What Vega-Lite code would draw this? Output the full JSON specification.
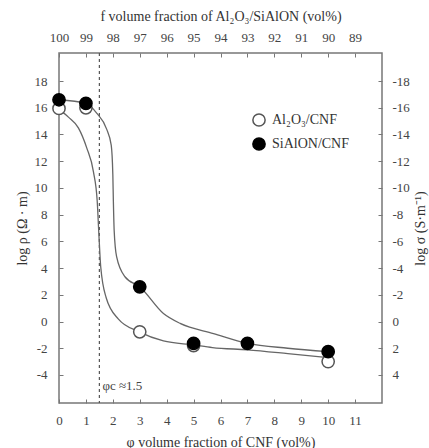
{
  "$schema": "https://vega.github.io/schema/vega-lite/v6.json",
  "width": 323,
  "height": 350,
  "autosize": {"type": "none"},
  "padding": {"left": 59, "top": 53, "right": 47, "bottom": 45},
  "background": "white",
  "config": {
    "font": "Liberation Serif, Times New Roman, serif",
    "view": {"stroke": "#777", "strokeWidth": 1.5},
    "axis": {
      "domain": false,
      "grid": false,
      "tickColor": "#777",
      "tickSize": 4,
      "offset": -4,
      "tickWidth": 1,
      "labelFlush": false,
      "labelFont": "Liberation Serif, Times New Roman, serif",
      "labelFontSize": 13,
      "labelColor": "#444",
      "titleFont": "Liberation Serif, Times New Roman, serif",
      "titleFontSize": 14,
      "titleFontWeight": "normal",
      "titleColor": "#333"
    },
    "legend": {
      "labelFont": "Liberation Serif, Times New Roman, serif",
      "labelFontSize": 14,
      "labelColor": "#333"
    },
    "text": {"font": "Liberation Serif, Times New Roman, serif"}
  },
  "datasets": {
    "points": [
      {"phi": 0, "logrho": 15.95, "series": "Al₂O₃/CNF"},
      {"phi": 1, "logrho": 16.0, "series": "Al₂O₃/CNF"},
      {"phi": 3, "logrho": -0.77, "series": "Al₂O₃/CNF"},
      {"phi": 5, "logrho": -1.8, "series": "Al₂O₃/CNF"},
      {"phi": 10, "logrho": -3.0, "series": "Al₂O₃/CNF"},
      {"phi": 0, "logrho": 16.6, "series": "SiAlON/CNF"},
      {"phi": 1, "logrho": 16.33, "series": "SiAlON/CNF"},
      {"phi": 3, "logrho": 2.6, "series": "SiAlON/CNF"},
      {"phi": 5, "logrho": -1.63, "series": "SiAlON/CNF"},
      {"phi": 7, "logrho": -1.63, "series": "SiAlON/CNF"},
      {"phi": 10, "logrho": -2.26, "series": "SiAlON/CNF"}
    ],
    "curves": [
      {"phi": 0, "logrho": 15.9, "curve": "Al"},
      {"phi": 0.35, "logrho": 15.3, "curve": "Al"},
      {"phi": 0.72, "logrho": 14.5, "curve": "Al"},
      {"phi": 1.03, "logrho": 13.0, "curve": "Al"},
      {"phi": 1.28, "logrho": 11.2, "curve": "Al"},
      {"phi": 1.42, "logrho": 9.0, "curve": "Al"},
      {"phi": 1.48, "logrho": 6.6, "curve": "Al"},
      {"phi": 1.55, "logrho": 4.1, "curve": "Al"},
      {"phi": 1.75, "logrho": 1.8, "curve": "Al"},
      {"phi": 2.2, "logrho": 0.2, "curve": "Al"},
      {"phi": 2.98, "logrho": -0.77, "curve": "Al"},
      {"phi": 3.88, "logrho": -1.45, "curve": "Al"},
      {"phi": 5, "logrho": -1.75, "curve": "Al"},
      {"phi": 5.7, "logrho": -1.95, "curve": "Al"},
      {"phi": 7, "logrho": -2.12, "curve": "Al"},
      {"phi": 8.5, "logrho": -2.4, "curve": "Al"},
      {"phi": 10, "logrho": -2.7, "curve": "Al"},
      {"phi": 0, "logrho": 16.6, "curve": "Si"},
      {"phi": 1, "logrho": 16.33, "curve": "Si"},
      {"phi": 1.4, "logrho": 15.6, "curve": "Si"},
      {"phi": 1.77, "logrho": 14.4, "curve": "Si"},
      {"phi": 1.94, "logrho": 13.2, "curve": "Si"},
      {"phi": 2.0, "logrho": 11.0, "curve": "Si"},
      {"phi": 2.02, "logrho": 9.0, "curve": "Si"},
      {"phi": 2.05, "logrho": 6.8, "curve": "Si"},
      {"phi": 2.14, "logrho": 4.85, "curve": "Si"},
      {"phi": 2.45, "logrho": 3.35, "curve": "Si"},
      {"phi": 3, "logrho": 2.6, "curve": "Si"},
      {"phi": 3.88, "logrho": 0.6, "curve": "Si"},
      {"phi": 4.5, "logrho": -0.14, "curve": "Si"},
      {"phi": 5.74, "logrho": -0.9, "curve": "Si"},
      {"phi": 7, "logrho": -1.63, "curve": "Si"},
      {"phi": 8.5, "logrho": -2.0, "curve": "Si"},
      {"phi": 10, "logrho": -2.26, "curve": "Si"}
    ],
    "threshold": [{"phi": 1.5, "logrho": -4.8, "label": "φc ≈1.5"}]
  },
  "layer": [
    {
      "data": {"name": "threshold"},
      "mark": {"type": "rule", "color": "#555", "strokeDash": [3, 3], "strokeWidth": 1.2},
      "encoding": {
        "x": {"field": "phi", "type": "quantitative", "scale": {"domain": [0, 12], "nice": false}, "axis": null}
      }
    },
    {
      "data": {"name": "threshold"},
      "mark": {"type": "text", "align": "left", "baseline": "middle", "dx": 3, "fontSize": 13, "color": "#444", "font": "Liberation Serif"},
      "encoding": {
        "x": {"field": "phi", "type": "quantitative", "scale": {"domain": [0, 12], "nice": false}, "axis": null},
        "y": {"field": "logrho", "type": "quantitative", "scale": {"domain": [-6.1, 20.1], "nice": false, "zero": false}, "axis": null},
        "text": {"field": "label"}
      }
    },
    {
      "data": {"name": "curves"},
      "mark": {"type": "line", "interpolate": "monotone", "color": "#666", "strokeWidth": 1.3},
      "encoding": {
        "x": {"field": "phi", "type": "quantitative", "scale": {"domain": [0, 12], "nice": false}, "axis": null},
        "y": {"field": "logrho", "type": "quantitative", "scale": {"domain": [-6.1, 20.1], "nice": false, "zero": false}, "axis": null},
        "detail": {"field": "curve"}
      }
    },
    {
      "data": {"name": "points"},
      "mark": {"type": "point", "filled": false, "strokeWidth": 1.5, "opacity": 1},
      "encoding": {
        "x": {
          "field": "phi", "type": "quantitative",
          "scale": {"domain": [0, 12], "nice": false},
          "axis": {
            "orient": "bottom",
            "values": [0, 1, 2, 3, 4, 5, 6, 7, 8, 9, 10, 11],
            "labelExpr": "toString(datum.value)",
            "labelPadding": 11,
            "title": "φ volume fraction of CNF (vol%)",
            "titlePadding": 8
          }
        },
        "y": {
          "field": "logrho", "type": "quantitative",
          "scale": {"domain": [-6.1, 20.1], "nice": false, "zero": false},
          "axis": {
            "orient": "left",
            "values": [-4, -2, 0, 2, 4, 6, 8, 10, 12, 14, 16, 18],
            "labelExpr": "toString(datum.value)",
            "labelPadding": 12,
            "title": "log ρ (Ω · m)",
            "titlePadding": 5
          }
        },
        "fill": {
          "field": "series", "type": "nominal",
          "scale": {"domain": ["Al₂O₃/CNF", "SiAlON/CNF"], "range": ["white", "black"]},
          "legend": {"title": null, "orient": "none", "legendX": 193, "legendY": 60, "symbolType": "circle", "symbolSize": 150, "symbolStrokeWidth": 1.5, "rowPadding": 4, "labelOffset": 6, "padding": 0}
        },
        "stroke": {
          "field": "series", "type": "nominal",
          "scale": {"domain": ["Al₂O₃/CNF", "SiAlON/CNF"], "range": ["#555", "black"]},
          "legend": {"title": null, "orient": "none", "legendX": 193, "legendY": 60, "symbolType": "circle", "symbolSize": 150, "symbolStrokeWidth": 1.5, "rowPadding": 4, "labelOffset": 6, "padding": 0}
        },
        "size": {"value": 150}
      }
    },
    {
      "data": {"name": "points"},
      "mark": {"type": "point", "opacity": 0},
      "encoding": {
        "x": {
          "field": "phi", "type": "quantitative",
          "scale": {"domain": [0, 12], "nice": false},
          "axis": {
            "orient": "top",
            "values": [0, 1, 2, 3, 4, 5, 6, 7, 8, 9, 10, 11],
            "labelExpr": "toString(100 - datum.value)",
            "labelPadding": 9,
            "title": "f volume fraction of Al₂O₃/SiAlON (vol%)",
            "titlePadding": 8
          }
        },
        "y": {
          "field": "logrho", "type": "quantitative",
          "scale": {"domain": [-6.1, 20.1], "nice": false, "zero": false},
          "axis": {
            "orient": "right",
            "values": [-4, -2, 0, 2, 4, 6, 8, 10, 12, 14, 16, 18],
            "labelExpr": "toString(-datum.value)",
            "labelPadding": 10,
            "title": "log σ (S·m⁻¹)",
            "titleAngle": 270,
            "titlePadding": 18
          }
        }
      }
    }
  ],
  "resolve": {"axis": {"x": "independent", "y": "independent"}}
}
